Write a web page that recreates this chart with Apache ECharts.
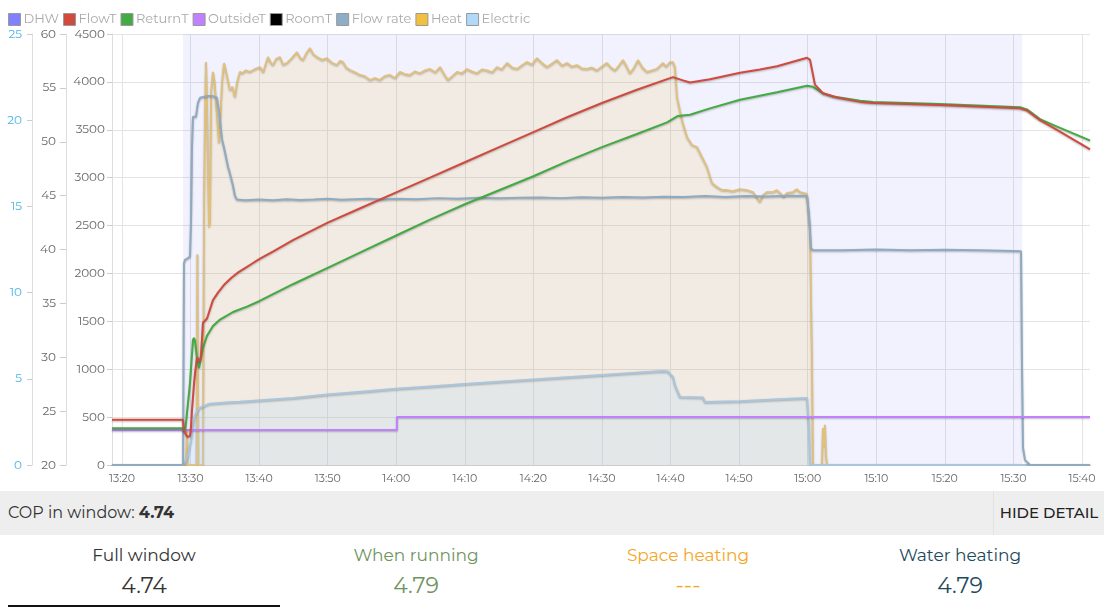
<!DOCTYPE html>
<html>
<head>
<meta charset="utf-8">
<script src="https://cdn.jsdelivr.net/npm/echarts@6/dist/echarts.min.js"></script>
<style>
  html, body { margin:0; padding:0; background:#fff; width:1104px; height:614px; overflow:hidden;
    font-family: Montserrat, "Open Sans", "Noto Sans", sans-serif; }
  #chart { position:absolute; left:0; top:0; width:1104px; height:490px; }
  #bar { position:absolute; left:0; top:491px; width:1104px; height:44px; background:#eeeeee; }
  #cop { position:absolute; left:8px; top:0; line-height:44px; font-size:16px; color:#333; }
  #cop b { font-weight:700; }
  #hide { position:absolute; left:993px; top:0; width:111px; height:44px; line-height:44px; text-align:center;
    font-size:15px; font-weight:500; color:#222; border-left:1px solid #e2e2e2; box-sizing:border-box; }
  .col { position:absolute; top:540px; width:272px; text-align:center; }
  .col .t { font-size:17px; line-height:30px; }
  .col .v { font-size:22px; line-height:32px; }
  #line { position:absolute; left:8px; top:605px; width:272px; height:2px; background:#111; }
</style>
</head>
<body>
<div id="chart"></div>
<div id="bar"><div id="cop">COP in window: <b>4.74</b></div><div id="hide">HIDE DETAIL</div></div>
<div id="cols"></div>
<div id="line"></div>
<script>
// ---- data: [minutes after 13:00, value] ----
const xTickMinutes = [20,30,40,50,60,70,80,90,100,110,120,130,140,150,160];
const xRangeMinutes = [18.54, 161.17];

const dhwData = [[18.54,0],[28.9,0],[28.9,1],[151.3,1],[151.3,0],[161.17,0]];

const flowTData = [[18.54,24.2],[28.9,24.2],[29.04,23.3],[29.33,22.8],[29.62,22.6],[29.92,22.7],[30.06,23.5],[30.21,25.1],[30.5,27.5],[30.65,28.5],[30.94,30.0],[31.23,30.0],[31.38,29.6],[31.52,30.2],[31.81,33.2],[32.4,33.6],[33.27,35.3],[34.0,36.0],[35.0,36.8],[36.0,37.4],[37.0,37.9],[38.0,38.3],[39.0,38.7],[40,39.1],[42,39.8],[45,40.9],[50,42.5],[55,43.9],[60,45.3],[65,46.7],[70,48.1],[75,49.5],[80,50.9],[85,52.3],[90,53.6],[95,54.8],[99.92,55.9],[100.36,56.0],[101.81,55.7],[102.84,55.5],[105.75,55.8],[110.13,56.4],[113.04,56.7],[115.53,57.0],[119.9,57.8],[120.34,57.6],[121.06,55.3],[122.23,54.5],[124.27,54.1],[127.63,53.7],[129.52,53.6],[139.29,53.4],[150.96,53.1],[151.98,52.9],[153.88,52.0],[156.36,51.1],[160.88,49.4],[161.17,49.3]];

const returnTData = [[18.54,23.4],[28.9,23.4],[29.19,23.0],[29.48,23.0],[29.92,27.6],[30.35,31.6],[30.5,31.8],[30.65,31.5],[30.94,29.9],[31.23,29.0],[31.38,29.5],[31.81,30.9],[32.4,32.0],[33.27,32.9],[34.29,33.5],[36.19,34.2],[38.23,34.7],[40,35.2],[45,36.8],[50,38.3],[55,39.8],[60,41.3],[65,42.8],[70,44.2],[75,45.5],[80,46.8],[85,48.2],[90,49.5],[95,50.7],[99.5,51.8],[101.08,52.4],[102.84,52.5],[105.75,53.1],[110.13,53.9],[115.53,54.6],[119.9,55.2],[120.77,55.1],[122.23,54.5],[123.69,54.2],[127.63,53.8],[129.52,53.7],[139.29,53.5],[150.96,53.2],[151.98,53.0],[153.88,52.1],[156.36,51.4],[160.88,50.2],[161.17,50.1]];

const outsideTData = [[18.54,23.25],[60.1,23.25],[60.1,24.45],[161.17,24.45]];

const roomTData = [];

const flowRateData = [[18.54,0],[28.9,0],[29.04,11.7],[29.19,11.9],[29.62,12.0],[29.92,12.1],[30.06,14],[30.21,18.5],[30.35,20.2],[30.79,20.2],[31.08,21.0],[31.38,21.3],[31.67,21.4],[32.5,21.4],[33.27,21.4],[33.85,21.3],[34.15,20.5],[34.58,18.9],[34.88,18.4],[35.46,17.3],[35.75,16.9],[36.19,16.2],[36.48,15.6],[36.77,15.4],[38,15.35],[40,15.4],[42,15.35],[44,15.42],[46,15.37],[48,15.4],[50,15.45],[52,15.38],[54,15.42],[56,15.45],[58,15.4],[60,15.45],[63,15.42],[66,15.48],[69,15.45],[72,15.5],[75,15.47],[78,15.5],[81,15.52],[84,15.48],[87,15.53],[90,15.5],[93,15.55],[96,15.52],[99,15.56],[102,15.55],[105,15.6],[108,15.55],[111,15.6],[114,15.58],[117,15.62],[119.9,15.6],[120.19,14.5],[120.48,12.6],[120.77,12.45],[125,12.45],[130,12.5],[135,12.45],[140,12.48],[145,12.45],[150,12.42],[151.11,12.4],[151.25,6],[151.4,1.0],[151.69,0.3],[152.42,0],[161.17,0]];

const heatData = [[18.54,0],[29.33,0],[29.48,350],[29.62,0],[30.87,0],[31.0,2200],[31.15,0],[31.81,0],[31.96,2700],[32.1,3600],[32.25,4207],[32.4,3800],[32.69,2485],[32.83,2550],[33.0,3900],[33.27,4105],[33.5,4000],[34.15,3362],[34.29,3550],[34.6,4000],[34.88,4197],[35.2,4100],[35.75,3915],[36.1,3950],[36.48,3842],[36.8,4000],[37.21,4105],[37.6,4090],[38.0,4120],[38.67,4105],[39.3,4130],[40.13,4155],[40.6,4100],[41.29,4260],[41.7,4200],[42.02,4176],[42.5,4240],[43.04,4260],[43.5,4180],[44.06,4197],[44.8,4250],[45.52,4311],[46.0,4250],[46.4,4228],[46.9,4300],[47.42,4353],[47.9,4290],[48.44,4260],[49.2,4230],[49.9,4249],[50.6,4200],[51.35,4176],[51.8,4220],[52.23,4207],[52.7,4150],[53.25,4124],[54.0,4100],[54.71,4072],[55.4,4060],[56.17,4020],[56.9,4040],[57.63,4020],[58.3,4060],[59.08,4072],[59.8,4040],[60.54,4105],[61.3,4080],[62.0,4072],[62.7,4110],[63.46,4090],[64.2,4120],[64.92,4135],[65.7,4100],[66.38,4155],[67.0,4080],[67.54,4020],[68.2,4060],[68.86,4105],[69.6,4090],[70.31,4135],[71.0,4110],[71.77,4090],[72.5,4130],[73.23,4120],[74.0,4100],[74.69,4155],[75.4,4130],[76.15,4197],[76.9,4150],[77.61,4135],[78.3,4170],[79.06,4207],[79.8,4180],[80.52,4249],[81.2,4200],[81.98,4155],[82.7,4190],[83.44,4228],[84.2,4170],[84.9,4197],[85.6,4160],[86.36,4176],[87.1,4140],[87.81,4135],[88.5,4150],[89.27,4120],[90.0,4160],[90.73,4197],[91.3,4150],[91.9,4120],[92.5,4170],[93.06,4228],[93.6,4160],[94.09,4090],[94.7,4150],[95.25,4228],[95.9,4150],[96.56,4105],[97.3,4120],[98.02,4135],[98.5,4170],[98.9,4197],[99.4,4160],[99.92,4207],[100.36,4207],[100.65,4155],[100.94,3842],[101.67,3602],[102.4,3424],[103.13,3341],[103.86,3320],[104.58,3216],[105.31,3112],[106.04,2944],[106.77,2903],[107.5,2871],[108.23,2871],[109.11,2860],[110.13,2880],[111.15,2871],[112.02,2850],[112.5,2800],[113.04,2746],[113.5,2820],[114.07,2850],[114.94,2850],[115.5,2870],[115.96,2840],[116.5,2800],[116.98,2840],[117.86,2850],[118.4,2880],[118.88,2850],[119.9,2830],[120.34,2454],[120.63,1065],[120.77,0],[122.08,0],[122.23,386],[122.38,200],[122.52,420],[122.67,100],[122.81,0],[161.17,0]];

const electricData = [[18.54,0],[28.9,0],[29.19,30],[29.62,100],[30.06,250],[30.35,400],[30.65,520],[31.08,580],[31.67,610],[32.83,640],[35.75,655],[37.21,660],[45,700],[50,735],[55,765],[60,795],[65,820],[70,845],[80,893],[90,940],[98.9,981],[99.63,975],[100.36,920],[100.65,835],[101.08,760],[101.38,710],[104.73,705],[105.02,658],[110,665],[115,685],[119.9,700],[120.19,400],[120.34,0],[161.17,0]];

const copTitles = ['Full window','When running','Space heating','Water heating'];
const copValues = ['4.74','4.79','---','4.79'];
const copColors = ['#333333','#6f9460','#f5a623','#1d4a5c'];

// ---- bottom columns ----
const colsDiv = document.getElementById('cols');
copTitles.forEach((t,i)=>{
  const d = document.createElement('div');
  d.className='col';
  d.style.left = (8 + i*272) + 'px';
  d.style.color = copColors[i];
  d.innerHTML = '<div class="t">'+t+'</div><div class="v">'+copValues[i]+'</div>';
  colsDiv.appendChild(d);
});

// ---- chart ----
const FONT = 'Montserrat, "Open Sans", sans-serif';
const shadow = {shadowColor:'rgba(0,0,0,0.28)', shadowBlur:2, shadowOffsetY:1};
const hhmm = m => { const t = 13*60 + Math.round(m); const h = Math.floor(t/60), mm = t%60; return h + ':' + (mm<10?'0':'') + mm; };

const chart = echarts.init(document.getElementById('chart'), null, {renderer:'canvas'});
chart.setOption({
  animation:false,
  textStyle:{fontFamily:FONT},
  legend:{
    left:3, top:8, itemWidth:12, itemHeight:12, itemGap:4, icon:'rect',
    textStyle:{color:'#aaa', fontSize:13, fontFamily:FONT, padding:[0,0,0,-2]},
    itemStyle:{borderColor:'#999', borderWidth:1},
    data:['DHW','FlowT','ReturnT','OutsideT','RoomT','Flow rate','Heat','Electric']
  },
  grid:{left:112, right:14, top:34, bottom:25},
  xAxis:{
    type:'value', min:xRangeMinutes[0], max:xRangeMinutes[1],
    axisLine:{lineStyle:{color:'#ccc'}},
    axisTick:{show:false, customValues:xTickMinutes},
    splitLine:{show:true, lineStyle:{color:'#e4e4e4'}},
    axisLabel:{customValues:xTickMinutes, formatter:v=>hhmm(v), color:'#666', fontSize:11, margin:8, fontFamily:FONT}
  },
  yAxis:[
    {type:'value', position:'left', offset:0, min:0, max:4500, interval:500,
     axisLine:{show:true, lineStyle:{color:'#ddd'}}, axisTick:{show:true, length:5, lineStyle:{color:'#ccc'}},
     splitLine:{show:true, lineStyle:{color:'#e4e4e4'}},
     axisLabel:{color:'#666', fontSize:12, margin:7, fontFamily:FONT, formatter:v=>String(v)}},
    {type:'value', position:'left', offset:46, min:20, max:60, interval:5,
     axisLine:{show:true, lineStyle:{color:'#ddd'}}, axisTick:{show:true, length:6, lineStyle:{color:'#ccc'}},
     splitLine:{show:false},
     axisLabel:{color:'#666', fontSize:12, margin:10, fontFamily:FONT, formatter:v=>String(v)}},
    {type:'value', position:'left', offset:80, min:0, max:25, interval:5,
     axisLine:{show:true, lineStyle:{color:'#ddd'}}, axisTick:{show:true, length:5, lineStyle:{color:'#ccc'}},
     splitLine:{show:false},
     axisLabel:{color:'#4ab3e6', fontSize:12, margin:10, fontFamily:FONT, formatter:v=>String(v)}},
    {type:'value', show:false, min:0, max:1}
  ],
  series:[
    {name:'DHW', type:'line', yAxisIndex:3, data:dhwData, symbol:'none', color:'#8080ff',
     lineStyle:{width:0}, areaStyle:{color:'rgba(128,128,255,0.15)'}, z:1},
    {name:'Heat', type:'line', yAxisIndex:0, data:heatData, symbol:'none', color:'#f0c040',
     lineStyle:Object.assign({width:1.8, color:'#e0c07a'}, shadow), areaStyle:{color:'rgba(240,192,64,0.2)'}, z:2},
    {name:'Electric', type:'line', yAxisIndex:0, data:electricData, symbol:'none', color:'#b0d8f8',
     lineStyle:Object.assign({width:2, color:'#aac6dc'}, shadow), areaStyle:{color:'rgba(176,216,248,0.32)'}, z:3},
    {name:'Flow rate', type:'line', yAxisIndex:2, data:flowRateData, symbol:'none', color:'#8eaec8',
     lineStyle:Object.assign({width:2, color:'#90aac0'}, shadow), z:4},
    {name:'OutsideT', type:'line', yAxisIndex:1, data:outsideTData, symbol:'none', color:'#c080ff',
     lineStyle:Object.assign({width:2}, shadow), z:5},
    {name:'RoomT', type:'line', yAxisIndex:1, data:roomTData, symbol:'none', color:'#000000',
     lineStyle:{width:2}, z:5},
    {name:'ReturnT', type:'line', yAxisIndex:1, data:returnTData, symbol:'none', color:'#44aa44',
     lineStyle:Object.assign({width:2}, shadow), z:6},
    {name:'FlowT', type:'line', yAxisIndex:1, data:flowTData, symbol:'none', color:'#d04a3e',
     lineStyle:Object.assign({width:2}, shadow), z:7}
  ]
});
</script>
</body>
</html>
